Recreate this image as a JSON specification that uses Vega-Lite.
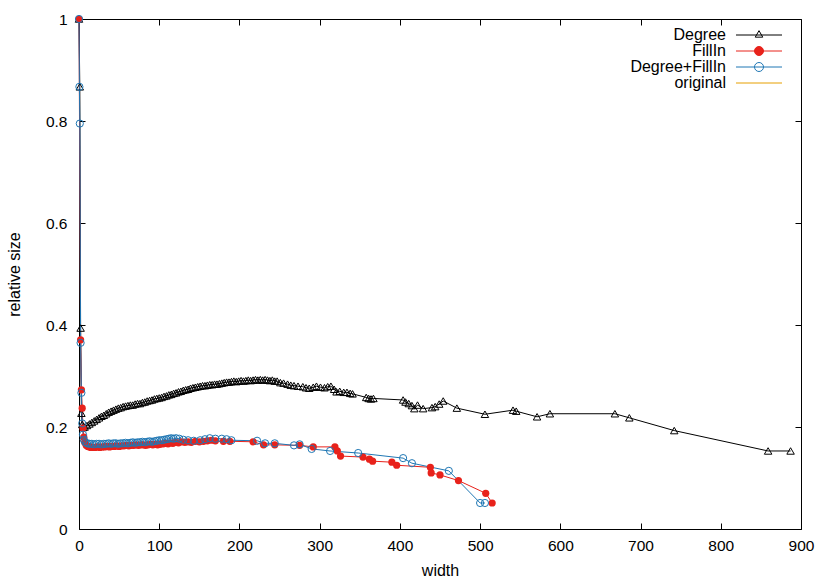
{
  "$schema": "https://vega.github.io/schema/vega-lite/v6.json",
  "width": 722,
  "height": 510,
  "autosize": {"type": "none"},
  "padding": {"left": 79, "top": 19, "right": 29, "bottom": 52},
  "background": "white",
  "config": {
    "view": {"stroke": "black", "strokeWidth": 1},
    "font": "Liberation Sans"
  },
  "data": {"values": [
    {"series":"Degree","width":0,"size":1},{"series":"Degree","width":1,"size":0.867},{"series":"Degree","width":2,"size":0.394},{"series":"Degree","width":3,"size":0.227},{"series":"Degree","width":4,"size":0.205},{"series":"Degree","width":5,"size":0.199},{"series":"Degree","width":7,"size":0.2},{"series":"Degree","width":10,"size":0.203},{"series":"Degree","width":13,"size":0.206},{"series":"Degree","width":16,"size":0.209},{"series":"Degree","width":19,"size":0.212},{"series":"Degree","width":22,"size":0.215},{"series":"Degree","width":25,"size":0.218},{"series":"Degree","width":28,"size":0.221},{"series":"Degree","width":31,"size":0.223},{"series":"Degree","width":34,"size":0.226},{"series":"Degree","width":37,"size":0.229},{"series":"Degree","width":40,"size":0.231},{"series":"Degree","width":43,"size":0.233},{"series":"Degree","width":46,"size":0.235},{"series":"Degree","width":49,"size":0.237},{"series":"Degree","width":52,"size":0.238},{"series":"Degree","width":55,"size":0.24},{"series":"Degree","width":58,"size":0.241},{"series":"Degree","width":61,"size":0.242},{"series":"Degree","width":64,"size":0.243},{"series":"Degree","width":67,"size":0.243},{"series":"Degree","width":70,"size":0.245},{"series":"Degree","width":73,"size":0.246},{"series":"Degree","width":76,"size":0.246},{"series":"Degree","width":79,"size":0.248},{"series":"Degree","width":82,"size":0.249},{"series":"Degree","width":85,"size":0.251},{"series":"Degree","width":88,"size":0.252},{"series":"Degree","width":91,"size":0.253},{"series":"Degree","width":94,"size":0.255},{"series":"Degree","width":97,"size":0.256},{"series":"Degree","width":100,"size":0.257},{"series":"Degree","width":103,"size":0.258},{"series":"Degree","width":106,"size":0.26},{"series":"Degree","width":109,"size":0.261},{"series":"Degree","width":112,"size":0.263},{"series":"Degree","width":115,"size":0.264},{"series":"Degree","width":118,"size":0.266},{"series":"Degree","width":121,"size":0.267},{"series":"Degree","width":124,"size":0.269},{"series":"Degree","width":127,"size":0.27},{"series":"Degree","width":130,"size":0.272},{"series":"Degree","width":133,"size":0.273},{"series":"Degree","width":136,"size":0.274},{"series":"Degree","width":139,"size":0.276},{"series":"Degree","width":142,"size":0.277},{"series":"Degree","width":145,"size":0.278},{"series":"Degree","width":148,"size":0.279},{"series":"Degree","width":151,"size":0.28},{"series":"Degree","width":154,"size":0.281},{"series":"Degree","width":157,"size":0.281},{"series":"Degree","width":160,"size":0.282},{"series":"Degree","width":163,"size":0.283},{"series":"Degree","width":166,"size":0.283},{"series":"Degree","width":169,"size":0.284},{"series":"Degree","width":172,"size":0.284},{"series":"Degree","width":175,"size":0.285},{"series":"Degree","width":178,"size":0.286},{"series":"Degree","width":181,"size":0.287},{"series":"Degree","width":184,"size":0.288},{"series":"Degree","width":187,"size":0.288},{"series":"Degree","width":190,"size":0.289},{"series":"Degree","width":193,"size":0.29},{"series":"Degree","width":196,"size":0.289},{"series":"Degree","width":199,"size":0.29},{"series":"Degree","width":202,"size":0.291},{"series":"Degree","width":205,"size":0.29},{"series":"Degree","width":208,"size":0.291},{"series":"Degree","width":211,"size":0.292},{"series":"Degree","width":214,"size":0.291},{"series":"Degree","width":217,"size":0.292},{"series":"Degree","width":220,"size":0.293},{"series":"Degree","width":223,"size":0.292},{"series":"Degree","width":226,"size":0.293},{"series":"Degree","width":229,"size":0.292},{"series":"Degree","width":232,"size":0.293},{"series":"Degree","width":235,"size":0.292},{"series":"Degree","width":238,"size":0.291},{"series":"Degree","width":241,"size":0.292},{"series":"Degree","width":244,"size":0.29},{"series":"Degree","width":247,"size":0.29},{"series":"Degree","width":251,"size":0.287},{"series":"Degree","width":255,"size":0.286},{"series":"Degree","width":260,"size":0.284},{"series":"Degree","width":264,"size":0.282},{"series":"Degree","width":268,"size":0.281},{"series":"Degree","width":273,"size":0.28},{"series":"Degree","width":279,"size":0.279},{"series":"Degree","width":283,"size":0.277},{"series":"Degree","width":287,"size":0.276},{"series":"Degree","width":292,"size":0.278},{"series":"Degree","width":296,"size":0.28},{"series":"Degree","width":301,"size":0.278},{"series":"Degree","width":306,"size":0.277},{"series":"Degree","width":310,"size":0.279},{"series":"Degree","width":314,"size":0.28},{"series":"Degree","width":318,"size":0.274},{"series":"Degree","width":321,"size":0.269},{"series":"Degree","width":325,"size":0.27},{"series":"Degree","width":330,"size":0.268},{"series":"Degree","width":334,"size":0.268},{"series":"Degree","width":338,"size":0.266},{"series":"Degree","width":341,"size":0.265},{"series":"Degree","width":358,"size":0.258},{"series":"Degree","width":361,"size":0.256},{"series":"Degree","width":364,"size":0.255},{"series":"Degree","width":367,"size":0.256},{"series":"Degree","width":404,"size":0.253},{"series":"Degree","width":407,"size":0.249},{"series":"Degree","width":411,"size":0.246},{"series":"Degree","width":415,"size":0.242},{"series":"Degree","width":418,"size":0.236},{"series":"Degree","width":422,"size":0.243},{"series":"Degree","width":429,"size":0.236},{"series":"Degree","width":440,"size":0.238},{"series":"Degree","width":444,"size":0.24},{"series":"Degree","width":449,"size":0.245},{"series":"Degree","width":454,"size":0.251},{"series":"Degree","width":471,"size":0.237},{"series":"Degree","width":506,"size":0.225},{"series":"Degree","width":541,"size":0.233},{"series":"Degree","width":545,"size":0.231},{"series":"Degree","width":571,"size":0.22},{"series":"Degree","width":587,"size":0.226},{"series":"Degree","width":668,"size":0.226},{"series":"Degree","width":686,"size":0.218},{"series":"Degree","width":742,"size":0.193},{"series":"Degree","width":859,"size":0.153},{"series":"Degree","width":887,"size":0.153},
    {"series":"FillIn","width":0,"size":1},{"series":"FillIn","width":2,"size":0.371},{"series":"FillIn","width":3,"size":0.273},{"series":"FillIn","width":4,"size":0.237},{"series":"FillIn","width":5,"size":0.198},{"series":"FillIn","width":6,"size":0.18},{"series":"FillIn","width":7,"size":0.17},{"series":"FillIn","width":9,"size":0.164},{"series":"FillIn","width":11,"size":0.162},{"series":"FillIn","width":13,"size":0.161},{"series":"FillIn","width":15,"size":0.16},{"series":"FillIn","width":17,"size":0.16},{"series":"FillIn","width":20,"size":0.16},{"series":"FillIn","width":23,"size":0.161},{"series":"FillIn","width":26,"size":0.16},{"series":"FillIn","width":29,"size":0.161},{"series":"FillIn","width":32,"size":0.161},{"series":"FillIn","width":35,"size":0.162},{"series":"FillIn","width":38,"size":0.161},{"series":"FillIn","width":41,"size":0.162},{"series":"FillIn","width":44,"size":0.162},{"series":"FillIn","width":47,"size":0.163},{"series":"FillIn","width":50,"size":0.162},{"series":"FillIn","width":53,"size":0.163},{"series":"FillIn","width":56,"size":0.163},{"series":"FillIn","width":59,"size":0.164},{"series":"FillIn","width":62,"size":0.163},{"series":"FillIn","width":65,"size":0.164},{"series":"FillIn","width":68,"size":0.164},{"series":"FillIn","width":71,"size":0.165},{"series":"FillIn","width":74,"size":0.164},{"series":"FillIn","width":77,"size":0.165},{"series":"FillIn","width":80,"size":0.165},{"series":"FillIn","width":83,"size":0.164},{"series":"FillIn","width":86,"size":0.165},{"series":"FillIn","width":89,"size":0.166},{"series":"FillIn","width":92,"size":0.165},{"series":"FillIn","width":95,"size":0.166},{"series":"FillIn","width":98,"size":0.165},{"series":"FillIn","width":101,"size":0.166},{"series":"FillIn","width":105,"size":0.167},{"series":"FillIn","width":108,"size":0.168},{"series":"FillIn","width":111,"size":0.167},{"series":"FillIn","width":114,"size":0.169},{"series":"FillIn","width":117,"size":0.168},{"series":"FillIn","width":120,"size":0.17},{"series":"FillIn","width":124,"size":0.169},{"series":"FillIn","width":128,"size":0.171},{"series":"FillIn","width":132,"size":0.17},{"series":"FillIn","width":136,"size":0.171},{"series":"FillIn","width":140,"size":0.17},{"series":"FillIn","width":145,"size":0.172},{"series":"FillIn","width":150,"size":0.171},{"series":"FillIn","width":155,"size":0.172},{"series":"FillIn","width":160,"size":0.173},{"series":"FillIn","width":165,"size":0.174},{"series":"FillIn","width":170,"size":0.173},{"series":"FillIn","width":180,"size":0.172},{"series":"FillIn","width":188,"size":0.172},{"series":"FillIn","width":217,"size":0.171},{"series":"FillIn","width":230,"size":0.165},{"series":"FillIn","width":244,"size":0.165},{"series":"FillIn","width":275,"size":0.164},{"series":"FillIn","width":292,"size":0.161},{"series":"FillIn","width":319,"size":0.161},{"series":"FillIn","width":322,"size":0.153},{"series":"FillIn","width":326,"size":0.143},{"series":"FillIn","width":354,"size":0.141},{"series":"FillIn","width":362,"size":0.137},{"series":"FillIn","width":366,"size":0.133},{"series":"FillIn","width":390,"size":0.131},{"series":"FillIn","width":396,"size":0.125},{"series":"FillIn","width":438,"size":0.121},{"series":"FillIn","width":439,"size":0.11},{"series":"FillIn","width":450,"size":0.106},{"series":"FillIn","width":473,"size":0.095},{"series":"FillIn","width":507,"size":0.07},{"series":"FillIn","width":515,"size":0.051},
    {"series":"Degree+FillIn","width":0,"size":1},{"series":"Degree+FillIn","width":0.5,"size":0.867},{"series":"Degree+FillIn","width":1,"size":0.795},{"series":"Degree+FillIn","width":2,"size":0.365},{"series":"Degree+FillIn","width":3,"size":0.267},{"series":"Degree+FillIn","width":4,"size":0.207},{"series":"Degree+FillIn","width":5,"size":0.185},{"series":"Degree+FillIn","width":6,"size":0.175},{"series":"Degree+FillIn","width":8,"size":0.17},{"series":"Degree+FillIn","width":10,"size":0.168},{"series":"Degree+FillIn","width":13,"size":0.167},{"series":"Degree+FillIn","width":16,"size":0.167},{"series":"Degree+FillIn","width":19,"size":0.166},{"series":"Degree+FillIn","width":22,"size":0.167},{"series":"Degree+FillIn","width":25,"size":0.167},{"series":"Degree+FillIn","width":28,"size":0.166},{"series":"Degree+FillIn","width":31,"size":0.167},{"series":"Degree+FillIn","width":34,"size":0.167},{"series":"Degree+FillIn","width":37,"size":0.168},{"series":"Degree+FillIn","width":40,"size":0.167},{"series":"Degree+FillIn","width":43,"size":0.168},{"series":"Degree+FillIn","width":46,"size":0.168},{"series":"Degree+FillIn","width":49,"size":0.167},{"series":"Degree+FillIn","width":52,"size":0.168},{"series":"Degree+FillIn","width":55,"size":0.168},{"series":"Degree+FillIn","width":58,"size":0.169},{"series":"Degree+FillIn","width":61,"size":0.168},{"series":"Degree+FillIn","width":64,"size":0.169},{"series":"Degree+FillIn","width":67,"size":0.17},{"series":"Degree+FillIn","width":70,"size":0.169},{"series":"Degree+FillIn","width":73,"size":0.17},{"series":"Degree+FillIn","width":76,"size":0.17},{"series":"Degree+FillIn","width":79,"size":0.171},{"series":"Degree+FillIn","width":82,"size":0.17},{"series":"Degree+FillIn","width":85,"size":0.171},{"series":"Degree+FillIn","width":88,"size":0.172},{"series":"Degree+FillIn","width":91,"size":0.171},{"series":"Degree+FillIn","width":94,"size":0.172},{"series":"Degree+FillIn","width":97,"size":0.173},{"series":"Degree+FillIn","width":100,"size":0.174},{"series":"Degree+FillIn","width":103,"size":0.174},{"series":"Degree+FillIn","width":106,"size":0.175},{"series":"Degree+FillIn","width":109,"size":0.176},{"series":"Degree+FillIn","width":112,"size":0.177},{"series":"Degree+FillIn","width":115,"size":0.178},{"series":"Degree+FillIn","width":118,"size":0.177},{"series":"Degree+FillIn","width":121,"size":0.178},{"series":"Degree+FillIn","width":125,"size":0.177},{"series":"Degree+FillIn","width":130,"size":0.175},{"series":"Degree+FillIn","width":136,"size":0.174},{"series":"Degree+FillIn","width":143,"size":0.173},{"series":"Degree+FillIn","width":151,"size":0.174},{"series":"Degree+FillIn","width":157,"size":0.176},{"series":"Degree+FillIn","width":163,"size":0.178},{"series":"Degree+FillIn","width":170,"size":0.177},{"series":"Degree+FillIn","width":178,"size":0.177},{"series":"Degree+FillIn","width":184,"size":0.176},{"series":"Degree+FillIn","width":190,"size":0.174},{"series":"Degree+FillIn","width":222,"size":0.173},{"series":"Degree+FillIn","width":232,"size":0.168},{"series":"Degree+FillIn","width":244,"size":0.168},{"series":"Degree+FillIn","width":268,"size":0.164},{"series":"Degree+FillIn","width":275,"size":0.166},{"series":"Degree+FillIn","width":290,"size":0.157},{"series":"Degree+FillIn","width":313,"size":0.153},{"series":"Degree+FillIn","width":348,"size":0.149},{"series":"Degree+FillIn","width":404,"size":0.139},{"series":"Degree+FillIn","width":415,"size":0.129},{"series":"Degree+FillIn","width":461,"size":0.114},{"series":"Degree+FillIn","width":500,"size":0.051},{"series":"Degree+FillIn","width":506,"size":0.051},
    {"series":"original","width":0,"size":1}
  ]},
  "layer": [
    {
      "mark": {"type": "line", "strokeWidth": 1, "clip": false},
      "encoding": {
        "x": {"field": "width", "type": "quantitative",
          "scale": {"domain": [0, 900], "nice": false, "zero": false},
          "axis": {"orient": "bottom", "values": [0,100,200,300,400,500,600,700,800,900], "grid": false, "domain": false,
            "tickSize": -6, "tickColor": "black", "tickWidth": 1, "labelPadding": 27, "labelBaseline": "alphabetic",
            "labelFont": "Liberation Sans", "labelFontSize": 15.5, "labelColor": "black", "labelFlush": false, "labelOverlap": false,
            "title": "width", "titleFont": "Liberation Sans", "titleFontSize": 16, "titleFontWeight": "normal", "titleColor": "black",
            "titleY": 46, "titleBaseline": "alphabetic"}},
        "y": {"field": "size", "type": "quantitative",
          "scale": {"domain": [0, 1], "nice": false},
          "axis": {"orient": "left", "values": [0,0.2,0.4,0.6,0.8,1], "format": "~g", "grid": false, "domain": false,
            "tickSize": -6, "tickColor": "black", "tickWidth": 1, "labelPadding": 18,
            "labelFont": "Liberation Sans", "labelFontSize": 15.5, "labelColor": "black", "labelFlush": false, "labelOverlap": false,
            "title": "relative size", "titleFont": "Liberation Sans", "titleFontSize": 16, "titleFontWeight": "normal", "titleColor": "black",
            "titleX": -60, "titleY": 255, "titleAngle": 270, "titleBaseline": "alphabetic"}},
        "color": {"field": "series", "type": "nominal",
          "scale": {"domain": ["Degree", "FillIn", "Degree+FillIn", "original"], "range": ["#000000", "#e8221b", "#1f77b4", "#e69f00"]},
          "legend": {"orient": "none", "legendX": 672, "legendY": 8, "title": null, "padding": 0,
            "labelAlign": "right", "labelOffset": -41, "labelFont": "Liberation Sans", "labelFontSize": 16, "labelColor": "black", "labelLimit": 300,
            "symbolSize": 196, "symbolStrokeWidth": 1, "rowPadding": 0,
            "encode": {"symbols": {"update": {
              "shape": {"signal": "datum.value === 'Degree' ? 'M-3.286,0H3.286M0,-0.619L-0.536,0.309L0.536,0.309Z' : (datum.value === 'original' ? 'M-3.286,0H3.286' : 'M-3.286,0H3.286M-0.643,0A0.643,0.643,0,1,0,0.643,0A0.643,0.643,0,1,0,-0.643,0Z')"},
              "fill": {"signal": "datum.value === 'FillIn' ? '#e8221b' : 'transparent'"},
              "stroke": {"signal": "datum.value === 'Degree' ? '#000000' : (datum.value === 'FillIn' ? '#e8221b' : (datum.value === 'original' ? '#e69f00' : '#1f77b4'))"},
              "strokeWidth": {"value": 1},
              "strokeOpacity": {"value": 1},
              "fillOpacity": {"value": 1},
              "opacity": {"value": 1}
            }}}}
        }
      }
    },
    {
      "transform": [{"filter": "datum.series === 'Degree'"}],
      "mark": {"type": "point", "shape": "triangle-up", "size": 56, "filled": false, "stroke": "black", "strokeWidth": 1, "opacity": 1, "clip": false},
      "encoding": {
        "x": {"field": "width", "type": "quantitative", "axis": {"orient": "top", "values": [0,100,200,300,400,500,600,700,800,900], "labels": false, "grid": false, "domain": false, "tickSize": -6, "tickColor": "black", "title": null}},
        "y": {"field": "size", "type": "quantitative", "axis": {"orient": "right", "values": [0,0.2,0.4,0.6,0.8,1], "labels": false, "grid": false, "domain": false, "tickSize": -6, "tickColor": "black", "title": null}}
      }
    },
    {
      "transform": [{"filter": "datum.series === 'FillIn'"}],
      "mark": {"type": "point", "shape": "circle", "size": 52, "filled": true, "fill": "#e8221b", "opacity": 1, "strokeWidth": 0, "clip": false},
      "encoding": {
        "x": {"field": "width", "type": "quantitative", "axis": null},
        "y": {"field": "size", "type": "quantitative", "axis": null}
      }
    },
    {
      "transform": [{"filter": "datum.series === 'Degree+FillIn'"}],
      "mark": {"type": "point", "shape": "circle", "size": 52, "filled": false, "stroke": "#1f77b4", "strokeWidth": 1, "opacity": 1, "clip": false},
      "encoding": {
        "x": {"field": "width", "type": "quantitative", "axis": null},
        "y": {"field": "size", "type": "quantitative", "axis": null}
      }
    }
  ]
}
